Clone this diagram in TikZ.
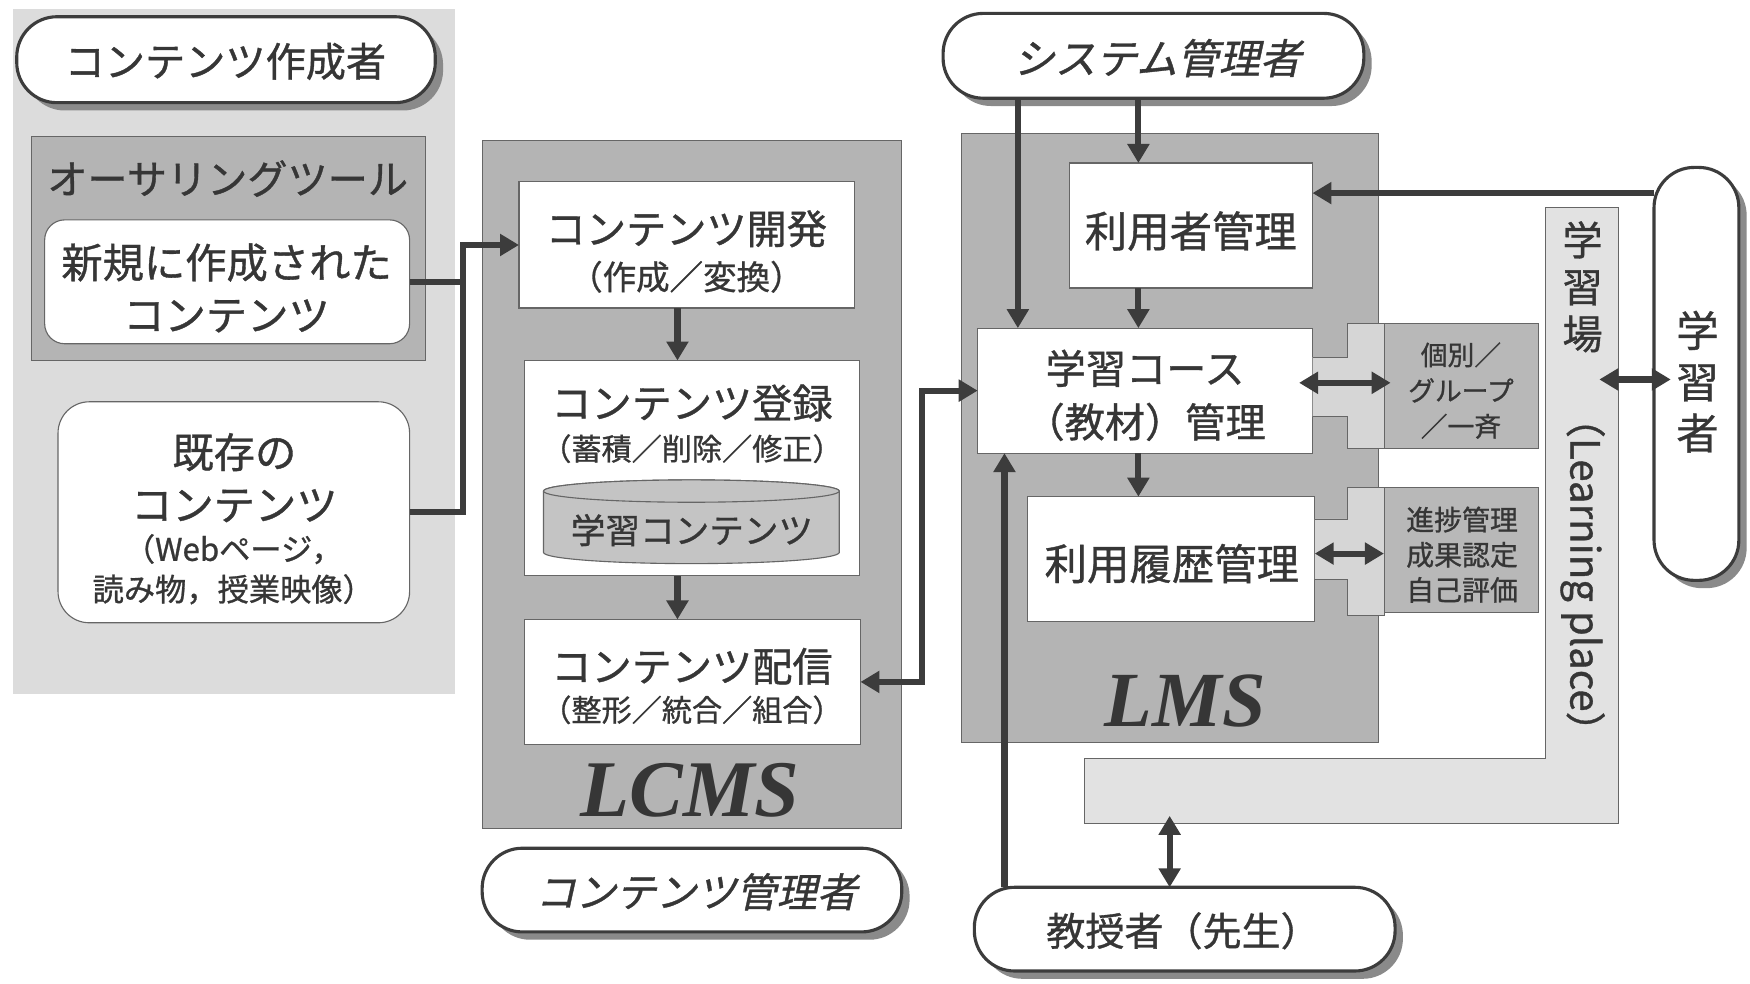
\documentclass[tikz,border=0pt]{standalone}
\usepackage{fontspec}
\newfontfamily\jp[FakeBold=0.9]{Noto Sans CJK JP}
\newfontfamily\jpit[FakeSlant=0.22,FakeBold=0.9]{Noto Sans CJK JP}
\newfontfamily\lser{Liberation Serif}
\usetikzlibrary{arrows.meta,shadows,fit,calc}
\definecolor{txt}{HTML}{363636}
\definecolor{lightp}{HTML}{DCDCDC}
\definecolor{midp}{HTML}{B4B4B4}
\definecolor{lpfill}{HTML}{E2E2E2}
\definecolor{tabl}{HTML}{D6D6D6}
\definecolor{tabd}{HTML}{B8B8B8}
\definecolor{cylf}{HTML}{C4C4C4}
\definecolor{linec}{HTML}{3C3C3C}
\definecolor{shad}{HTML}{8A8A8A}
\definecolor{bord}{HTML}{666666}
\begin{document}
\begin{tikzpicture}[x=1pt,y=-1pt,
  every node/.style={inner sep=0pt,outer sep=0pt,text=txt},
  lpanel/.style={fill=lightp,draw=none},
  panel/.style={fill=midp,draw=bord,line width=0.8pt},
  wbox/.style={fill=white,draw=bord,line width=1pt},
  rbox/.style={fill=white,draw=bord,line width=1pt,rounded corners=#1},
  pill/.style={fill=white,draw=linec,line width=2.8pt,rounded corners=36pt,
     drop shadow={shadow xshift=7pt,shadow yshift=-7pt,fill=shad,opacity=1}},
  tabbox/.style={fill=tabd,draw=bord,line width=0.8pt},
  tabshape/.style={fill=tabl,draw=bord,line width=0.8pt},
  fs/.style 2 args={font=\jp\fontsize{#1}{#2}\selectfont},
  fsit/.style 2 args={font=\jpit\fontsize{#1}{#2}\selectfont},
  big/.style={font=\lser\bfseries\itshape\fontsize{#1}{#1}\selectfont},
  plain/.style={draw=linec,line width=5.5pt},
  arr/.style={draw=linec,line width=5.5pt,-{Triangle[length=17pt,width=19pt]}},
  darr/.style={draw=linec,line width=5.5pt,{Triangle[length=17pt,width=19pt]}-{Triangle[length=17pt,width=19pt]}}
]
\fill[white] (0,0) rectangle (1568,881);
\useasboundingbox (0,0) rectangle (1568,881);

% ---------- left area ----------
\node[lpanel, fit={(12,8) (408,622)}] (leftp) {};
\node[panel, fit={(28,122) (381,323)}] (auth) {};
\node[fs={36}{42}] (authT) at (204,160) {オーサリングツール};
\node[rbox=18pt, fit={(40,197) (367,308)}] (shinki) {};
\node[fs={37}{47}, align=center] (shinkiT) at (203,258) {新規に作成された\\コンテンツ};
\node[rbox=28pt, fit={(52,360) (367,558)}] (kizon) {};
\node[fs={37}{47}, align=center] (kizonT1) at (210,428) {既存の\\コンテンツ};
\node[fs={28}{36}, align=center] (kizonT2) at (209,510) {（Webページ，\\読み物，授業映像）};

% ---------- LCMS ----------
\node[panel, fit={(432,126) (808,742)}] (lcms) {};
\node[wbox, fit={(465,163) (766,276)}] (kaihatsu) {};
\node[fs={36}{42}] (kaihatsuT1) at (615,205) {コンテンツ開発};
\node[fs={30}{36}] (kaihatsuT2) at (615,248) {（作成／変換）};
\node[wbox, fit={(470,323) (770,516)}] (touroku) {};
\node[fs={36}{42}] (tourokuT1) at (620,361) {コンテンツ登録};
\node[fs={27}{32}] (tourokuT2) at (620,402) {（蓄積／削除／修正）};
\path[draw=bord,fill=cylf,line width=1pt] (487,440) -- (487,495)
   arc[start angle=180,end angle=0,x radius=132.5,y radius=10] -- (752,440)
   arc[start angle=0,end angle=-180,x radius=132.5,y radius=10] -- cycle;
\draw[draw=bord,fill=cylf,line width=1pt] (619.5,440) ellipse[x radius=132.5,y radius=10];
\node[fs={31}{36}] (db) at (620,475) {学習コンテンツ};
\node[wbox, fit={(470,555) (771,667)}] (haishin) {};
\node[fs={36}{42}] (haishinT1) at (620,597) {コンテンツ配信};
\node[fs={27}{32}] (haishinT2) at (620,636) {（整形／統合／組合）};
\node[big=72] (lcmsT) at (618,708) {LCMS};

% ---------- Learning place ----------
\path[fill=lpfill,draw=bord,line width=0.8pt] (1385,186) -- (1450,186) -- (1450,738)
   -- (972,738) -- (972,680) -- (1385,680) -- cycle;
\node[fs={36}{42}, align=center] (lpT1) at (1418,257) {学\\習\\場};
\node[fs={36}{40}, rotate=-90] (lpT2) at (1418,515) {（Learning place）};

% ---------- LMS ----------
\node[panel, fit={(861,120) (1235,665)}] (lms) {};
\node[wbox, fit={(958,146) (1176,258)}] (user) {};
\node[fs={38}{44}] (userT) at (1067,207) {利用者管理};
\node[wbox, fit={(876,294) (1176,406)}] (course) {};
\node[fs={36}{42}] (courseT1) at (1026,330) {学習コース};
\node[fs={36}{42}] (courseT2) at (1026,378) {（教材）管理};
\node[wbox, fit={(921,445) (1178,557)}] (rireki) {};
\node[fs={38}{44}] (rirekiT) at (1050,505) {利用履歴管理};
\path[tabshape] (1176,320) -- (1207,320) -- (1207,290) -- (1240,290) -- (1240,402)
   -- (1207,402) -- (1207,373) -- (1176,373);
\node[tabbox, fit={(1240,290) (1378,402)}] (kobetsu) {};
\node[fs={24}{32}, align=center] (kobetsuT) at (1309,350) {個別／\\グループ\\／一斉};
\path[tabshape] (1178,465) -- (1207,465) -- (1207,437) -- (1240,437) -- (1240,551)
   -- (1207,551) -- (1207,519) -- (1178,519);
\node[tabbox, fit={(1240,437) (1378,549)}] (shinchoku) {};
\node[fs={25}{31.5}, align=center] (shinchokuT) at (1310,497) {進捗管理\\成果認定\\自己評価};
\node[big=70] (lmsT) at (1062,628) {LMS};

% ---------- actors ----------
\node[pill, fit={(15,15) (390,92)}] (author) {};
\node[fs={36}{42}] (authorT) at (202,55) {コンテンツ作成者};
\node[pill, fit={(432,760) (808,835)}] (cmgr) {};
\node[fsit={36}{42}] (cmgrT) at (624,799) {コンテンツ管理者};
\node[pill, fit={(845,12) (1222,88)}] (sys) {};
\node[fsit={37}{42}] (sysT) at (1037,52) {システム管理者};
\node[pill, fit={(873,795) (1250,870)}] (teacher) {};
\node[fs={35}{42}] (teacherT) at (1060,834) {教授者（先生）};
\node[pill, fit={(1482,150) (1558,520)}] (learner) {};
\node[fs={38}{46}, align=center] (learnerT) at (1521,342) {学\\習\\者};

% ---------- connectors ----------
\draw[plain] (shinki.east) -- (shinki.east -| 415,0);
\draw[arr] (kizon.east) -| ($(kaihatsu.west)+(-50,0)$) -- (kaihatsu.west);
\draw[arr] (kaihatsu.south -| 607,0) -- (touroku.north -| 607,0);
\draw[arr] (touroku.south -| 607,0) -- (haishin.north -| 607,0);
\draw[darr] (haishin.east) -| ($(course.west)+(-50,0)$) -- (course.west);
\draw[arr] (sys.south -| 912,0) -- (course.north -| 912,0);
\draw[arr] (sys.south -| 1020,0) -- (user.north -| 1020,0);
\draw[arr] (user.south -| 1020,0) -- (course.north -| 1020,0);
\draw[arr] (course.south -| 1020,0) -- (rireki.north -| 1020,0);
\draw[arr] (learner.west |- 0,173) -- (user.east |- 0,173);
\draw[darr] ($(course.east |- 0,343)+(-12,0)$) -- ($(kobetsu.west |- 0,343)+(6,0)$);
\draw[darr] (rireki.east |- 0,496) -- (shinchoku.west |- 0,496);
\coordinate (lpin) at (1433,340);
\draw[darr] (lpin) -- ($(learner.west |- lpin)+(15,0)$);
\coordinate (lpbot) at (1048,731);
\draw[darr] (lpbot) -- (teacher.north -| lpbot);
\draw[arr] (teacher.north -| 900,0) -- (course.south -| 900,0);
\end{tikzpicture}
\end{document}
